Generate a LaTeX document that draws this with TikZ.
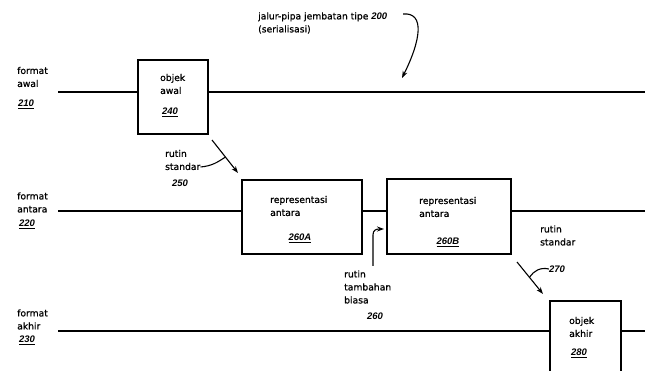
\documentclass[tikz,border=0pt]{standalone}
\usepackage{fontspec}
\setmainfont{DejaVu Sans}[FakeBold=0.8]
\newfontfamily\numfamily{Liberation Sans}
\usetikzlibrary{arrows.meta}
\begin{document}
\begin{tikzpicture}[x=1pt,y=-1pt,
  lbl/.style={font=\fontsize{9.2}{13}\selectfont, align=left, inner sep=0, anchor=west},
  num/.style={font=\numfamily\bfseries\itshape\fontsize{9.5}{10}\selectfont, inner sep=0},
  box/.style={draw, line width=1.4pt, inner sep=0},
  lane/.style={line width=1.2pt},
  arr/.style={line width=1.1pt, -{Stealth[length=7pt,width=5pt]}},
  lead/.style={line width=1.1pt}]
\useasboundingbox (0,0) rectangle (645,371);
\clip (0,0) rectangle (645,371);

% left labels
\node[lbl] (t210) at (17,77) {format\\awal};
\node[num] (n210) at (26,104) {\underline{210}};
\node[lbl] (t220) at (17,202.5) {format\\antara};
\node[num] (n220) at (27,224) {\underline{220}};
\node[lbl] (t230) at (17,319.5) {format\\akhir};
\node[num] (n230) at (27,340) {\underline{230}};

% boxes
\node[box, minimum width=70, minimum height=74] (b240) at (173,97) {};
\node[box, minimum width=120, minimum height=74] (b260A) at (302,217) {};
\node[box, minimum width=124, minimum height=75] (b260B) at (449,216.5) {};
\node[box, minimum width=71, minimum height=84] (b280) at (585.5,343) {};

% box texts
\node[lbl] (t240) at (160,84) {objek\\awal};
\node[num] (n240) at (170,112) {\underline{240}};
\node[lbl] (t260A) at (270,206) {representasi\\antara};
\node[num] (n260A) at (300,238) {\underline{260A}};
\node[lbl] (t260B) at (419,207) {representasi\\antara};
\node[num] (n260B) at (448,242) {\underline{260B}};
\node[lbl] (t280) at (569,327) {objek\\akhir};
\node[num] (n280) at (579,353) {\underline{280}};

% lanes
\coordinate (l1s) at (58,92);  \coordinate (l1e) at (645,92);
\coordinate (l2s) at (58,211); \coordinate (l2e) at (645,211);
\coordinate (l3s) at (58,331); \coordinate (l3e) at (645,331);
\draw[lane] (l1s) -- (l1s -| b240.west);
\draw[lane] (l1s -| b240.east) -- (l1e);
\draw[lane] (l2s) -- (l2s -| b260A.west);
\draw[lane] (l2s -| b260A.east) -- (l2s -| b260B.west);
\draw[lane] (l2s -| b260B.east) -- (l2e);
\draw[lane] (l3s) -- (l3s -| b280.west);
\draw[lane] (l3s -| b280.east) -- (l3e);

% title
\node[lbl] (ttitle) at (258,23) {jalur-pipa jembatan tipe {\numfamily\bfseries\itshape\fontsize{9.5}{10}\selectfont 200}\\(serialisasi)};
\coordinate (c200s) at (403,14);
\coordinate (c200e) at (402,78);
\draw[arr] (c200s) .. controls (425,12) and (421,40) .. (c200e);

% rutin standar 250
\node[lbl] (t250) at (165,160) {rutin\\standar};
\node[num] (n250) at (180,183) {250};
\coordinate (a250s) at (212,140);
\coordinate (a250e) at (238,173);
\draw[arr] (a250s) -- (a250e);
\coordinate (k250) at (225.4,157);
\draw[lead] (t250.east |- 0,167) .. controls (212,166) and (218,162) .. (k250);

% rutin tambahan biasa 260
\node[lbl] (t260) at (344,287) {rutin\\tambahan\\biasa};
\node[num] (n260) at (375,316) {260};
\coordinate (a260s) at (373,266);
\coordinate (a260e) at (384,229);
\draw[arr] (a260s) -- (373,235) .. controls (373,230) and (376,229) .. (a260e);

% rutin standar 270
\node[lbl] (t270) at (540,235.5) {rutin\\standar};
\node[num] (n270) at (557,269) {270};
\coordinate (a270s) at (517,262);
\coordinate (a270e) at (543,294);
\draw[arr] (a270s) -- (a270e);
\coordinate (k270) at (529.6,277);
\draw[lead] (n270.west) .. controls (540,267) and (534,271) .. (k270);
\end{tikzpicture}
\end{document}
